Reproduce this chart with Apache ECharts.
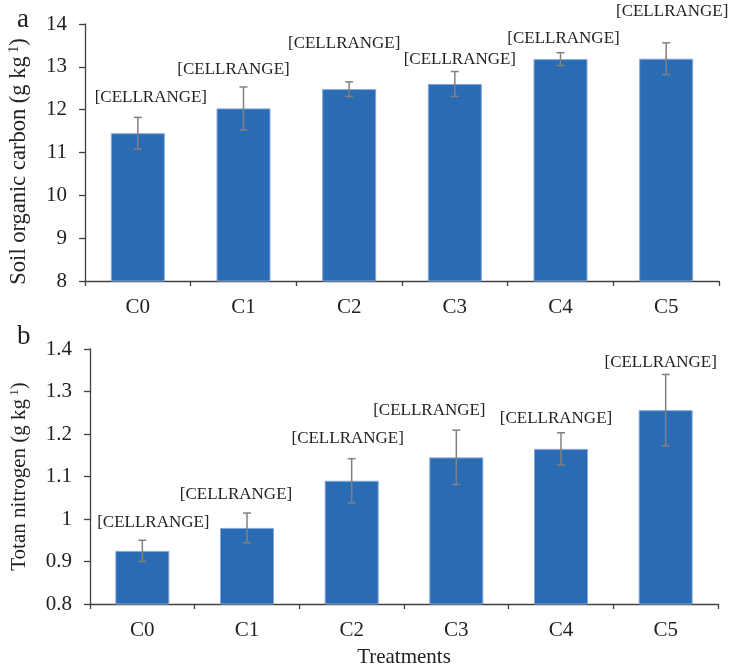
<!DOCTYPE html>
<html>
<head>
<meta charset="utf-8">
<script src="https://cdn.jsdelivr.net/npm/echarts@6/dist/echarts.min.js"></script>
<style>
  html, body { margin: 0; padding: 0; background: #fff; }
  #chart { width: 731px; height: 669px; }
</style>
</head>
<body>
<div id="chart"></div>
<script>
// Treatments on the category axis
const treatments = ['C0', 'C1', 'C2', 'C3', 'C4', 'C5'];

// Panel a: soil organic carbon (g kg-1), means and error half-widths
const socMean = [11.45, 12.03, 12.48, 12.60, 13.18, 13.19];
const socErr  = [0.37, 0.50, 0.17, 0.29, 0.15, 0.37];

// Panel b: total nitrogen (g kg-1), means and error half-widths
const tnMean = [0.925, 0.979, 1.090, 1.145, 1.165, 1.256];
const tnErr  = [0.025, 0.035, 0.052, 0.064, 0.038, 0.084];

// Data label text (unresolved Excel cell-range placeholder)
const labelText = ['[CELLRANGE]', '[CELLRANGE]', '[CELLRANGE]', '[CELLRANGE]', '[CELLRANGE]', '[CELLRANGE]'];

// Hand-placed label nudges [dx, dy] relative to each bar top
const socLabelNudge = [[13, -36], [-10, -39], [-5, -46], [5, -24], [3, -21], [6, -47]];
const tnLabelNudge  = [[11, -28], [-11, -33], [-4, -42], [-27, -47], [-5, -30], [-5, -48]];

const FONT = '"Liberation Serif", "Times New Roman", serif';
const AXIS_COLOR = '#404040';
const BAR_COLOR = '#2a6cb3';
const ERR_COLOR = '#808080';

function barData(means, nudges) {
  return means.map((v, i) => ({
    value: v,
    label: {
      show: true,
      formatter: labelText[i],
      position: 'top',
      distance: 0,
      verticalAlign: 'middle',
      offset: nudges[i]
    }
  }));
}

function errData(means, errs) {
  return means.map((v, i) => [i, v - errs[i], v + errs[i]]);
}

function renderErr(params, api) {
  const x = api.value(0);
  const lo = api.coord([x, api.value(1)]);
  const hi = api.coord([x, api.value(2)]);
  const cap = 4;
  const style = { stroke: ERR_COLOR, lineWidth: 1.5, fill: null };
  return {
    type: 'group',
    children: [
      { type: 'line', shape: { x1: lo[0], y1: lo[1], x2: hi[0], y2: hi[1] }, style },
      { type: 'line', shape: { x1: hi[0] - cap, y1: hi[1], x2: hi[0] + cap, y2: hi[1] }, style },
      { type: 'line', shape: { x1: lo[0] - cap, y1: lo[1], x2: lo[0] + cap, y2: lo[1] }, style }
    ]
  };
}

function xAxis(gridIndex, name) {
  return {
    type: 'category',
    gridIndex,
    data: treatments,
    name: name || '',
    nameLocation: 'middle',
    nameGap: 43,
    nameTextStyle: { fontFamily: FONT, fontSize: 21, color: '#222' },
    axisLine: { lineStyle: { color: AXIS_COLOR, width: 1.3 } },
    axisTick: { show: true, length: 5, lineStyle: { color: AXIS_COLOR, width: 1.3 } },
    axisLabel: { fontFamily: FONT, fontSize: 21, color: '#222', margin: 16 }
  };
}

function yAxis(gridIndex, min, max, interval, title, gap, size, pad) {
  return {
    type: 'value',
    gridIndex,
    min, max, interval,
    name: title,
    nameLocation: 'middle',
    nameRotate: 90,
    nameGap: gap,
    nameTextStyle: {
      fontFamily: FONT, fontSize: size, color: '#222',
      padding: pad,
      rich: {
        base: { fontFamily: FONT, fontSize: size, color: '#222' },
        sup: { fontFamily: FONT, fontSize: Math.round(size * 0.62), color: '#222', verticalAlign: 'bottom', padding: [0, 0, 10, 0] }
      }
    },
    axisLine: { show: true, lineStyle: { color: AXIS_COLOR, width: 1.3 } },
    axisTick: { show: true, length: 6, lineStyle: { color: AXIS_COLOR, width: 1.3 } },
    splitLine: { show: false },
    axisLabel: { fontFamily: FONT, fontSize: 21, color: '#222', margin: 18 }
  };
}

const chart = echarts.init(document.getElementById('chart'), null, { renderer: 'canvas' });

const labelStyle = { fontFamily: FONT, fontSize: 17, color: '#222' };

chart.setOption({
  animation: false,
  backgroundColor: '#ffffff',
  title: [
    { text: 'a', left: 12, top: 1, textStyle: { fontFamily: FONT, fontSize: 27, fontWeight: 'normal', color: '#222' } },
    { text: 'b', left: 12, top: 318, textStyle: { fontFamily: FONT, fontSize: 27, fontWeight: 'normal', color: '#222' } }
  ],
  grid: [
    { left: 85, right: 12, top: 24, height: 257, outerBoundsMode: 'none', containLabel: false },
    { left: 90, right: 13, top: 349, height: 255, outerBoundsMode: 'none', containLabel: false }
  ],
  xAxis: [xAxis(0), xAxis(1, 'Treatments')],
  yAxis: [
    yAxis(0, 8, 14, 1, '{base|Soil organic carbon (g kg}{sup| 1}{base|)}', 54, 22.5, [0, 18, 0, 0]),
    yAxis(1, 0.8, 1.4, 0.1, '{base|Totan nitrogen (g kg}{sup| 1}{base|)}', 59, 21, 0)
  ],
  series: [
    {
      type: 'bar', xAxisIndex: 0, yAxisIndex: 0,
      barWidth: 54,
      data: barData(socMean, socLabelNudge),
      itemStyle: { color: BAR_COLOR, borderColor: '#86a7d8', borderWidth: 1 },
      label: labelStyle
    },
    {
      type: 'custom', xAxisIndex: 0, yAxisIndex: 0,
      data: errData(socMean, socErr),
      renderItem: renderErr, z: 5
    },
    {
      type: 'bar', xAxisIndex: 1, yAxisIndex: 1,
      barWidth: 54,
      data: barData(tnMean, tnLabelNudge),
      itemStyle: { color: BAR_COLOR, borderColor: '#86a7d8', borderWidth: 1 },
      label: labelStyle
    },
    {
      type: 'custom', xAxisIndex: 1, yAxisIndex: 1,
      data: errData(tnMean, tnErr),
      renderItem: renderErr, z: 5
    }
  ]
});
</script>
</body>
</html>
